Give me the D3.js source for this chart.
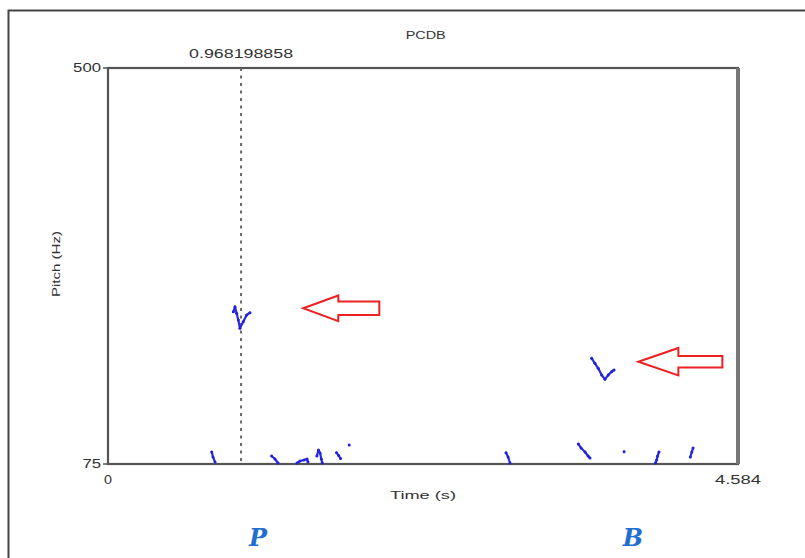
<!DOCTYPE html>
<html>
<head>
<meta charset="utf-8">
<script src="https://cdn.jsdelivr.net/npm/d3@7"></script>
<style>
  html, body { margin: 0; padding: 0; background: #fff; }
  svg { display: block; }
  text { font-family: "Liberation Sans", Arial, sans-serif; fill: #333; }
</style>
</head>
<body>
<svg id="chart" width="805" height="558"></svg>
<script>
// Pitch track of the recording (time in s, F0 in Hz); null breaks a voiced stretch
const pitchTimes = [
  0.755, 0.764, 0.779, null,
  0.912, 0.924, 0.936, 0.948, 0.960, 0.984, 1.009, 1.033, null,
  1.191, 1.215, 1.237, null,
  1.375, 1.397, 1.426, 1.448, 1.455, null,
  1.520, 1.531, 1.543, 1.552, 1.559, null,
  1.663, 1.678, 1.692, null,
  1.755, null,
  2.896, 2.911, 2.925, null,
  3.422, 3.442, 3.471, 3.493, 3.507, null,
  3.519, 3.543, 3.567, 3.592, 3.616, 3.640, 3.665, 3.682, null,
  3.755, null,
  3.984, 3.992, 3.999, 4.009, null,
  4.237, 4.248, 4.257
];
const pitchHz = [
  87.9, 82.5, 77.1, null,
  238.4, 243.8, 236.7, 229.5, 220.6, 227.7, 234.9, 237.4, null,
  83.6, 80.4, 76.1, null,
  76.1, 78.2, 79.3, 80.4, 77.2, null,
  83.6, 90.0, 86.8, 80.4, 76.1, null,
  87.1, 84.0, 81.0, null,
  95.4, null,
  87.1, 82.5, 76.1, null,
  96.5, 92.2, 87.9, 83.6, 81.4, null,
  188.4, 183.1, 177.7, 170.5, 165.9, 170.5, 174.1, 175.9, null,
  88.2, null,
  76.1, 79.3, 83.6, 87.9, null,
  82.5, 87.9, 92.2
];

const title = "PCDB";
const xLabel = "Time (s)";
const yLabel = "Pitch (Hz)";
const timeRange = [0, 4.584];
const hzRange = [75, 500];
const xTickLabels = ["0", "4.584"];
const yTickLabels = ["75", "500"];
const cursorTime = 0.968198858;
const cursorLabel = "0.968198858";

// Arrows pointing at the two marked syllables: tip at (time, Hz)
const arrowTimes = [1.421, 3.859];
const arrowHz = [242.1, 184.8];
// Segment letters under the plot
const segmentLetters = ["P", "B"];
const segmentTimes = [1.091, 3.820];

const svg = d3.select("#chart");
const m = { left: 108, right: 738, top: 68, bottom: 464 };

const x = d3.scaleLinear().domain(timeRange).range([m.left, m.right]);
const y = d3.scaleLinear().domain(hzRange).range([m.bottom, m.top]);

// outer picture frame
svg.append("rect")
  .attr("x", 8.5).attr("y", 10.5)
  .attr("width", 820).attr("height", 560)
  .attr("fill", "none").attr("stroke", "#444").attr("stroke-width", 2);

// plot box
svg.append("rect")
  .attr("x", m.left).attr("y", m.top)
  .attr("width", m.right - m.left).attr("height", m.bottom - m.top)
  .attr("fill", "none").attr("stroke", "#555").attr("stroke-width", 2.2);
svg.append("line")
  .attr("x1", m.right).attr("x2", m.right)
  .attr("y1", m.top).attr("y2", m.bottom)
  .attr("stroke", "#777").attr("stroke-width", 4);

// stretched label helper
function label(txt, px, py, size, width, anchor, extra) {
  const t = svg.append("text")
    .attr("x", px).attr("y", py)
    .attr("font-size", size)
    .attr("text-anchor", anchor || "middle")
    .attr("dominant-baseline", "central")
    .attr("textLength", width)
    .attr("lengthAdjust", "spacingAndGlyphs")
    .text(txt);
  if (extra) extra(t);
  return t;
}

// y ticks
yTickLabels.forEach(v => {
  const yy = y(+v);
  svg.append("line").attr("x1", m.left - 5).attr("x2", m.left)
    .attr("y1", yy).attr("y2", yy).attr("stroke", "#555").attr("stroke-width", 1.5);
  label(v, m.left - 7, yy, 12, v.length * 9.3, "end");
});
// x ticks
xTickLabels.forEach(v => {
  label(v, x(+v), m.bottom + 16, 12, v === "0" ? 8 : 46, "middle");
});

// axis titles
label(title, x(timeRange[1] * 0.5 + 0.02), 35, 10, 40, "middle");
label(xLabel, (m.left + m.right) / 2, 495, 11, 66, "middle");
label(yLabel, 0, 0, 11, 66, "middle", t =>
  t.attr("x", 0).attr("y", 0).attr("transform", "translate(56,264) rotate(-90)"));

// cursor
svg.append("line")
  .attr("x1", x(cursorTime)).attr("x2", x(cursorTime))
  .attr("y1", m.top).attr("y2", m.bottom)
  .attr("stroke", "#666").attr("stroke-width", 2)
  .attr("stroke-dasharray", "3,4.5");
label(cursorLabel, x(cursorTime), 54, 12, 104, "middle");

// pitch contour
const pts = pitchTimes.map((t, i) => [t, pitchHz[i]]);
const line = d3.line()
  .defined(d => d[0] !== null && d[1] !== null)
  .x(d => x(d[0])).y(d => y(d[1]));
svg.append("path")
  .attr("d", line(pts))
  .attr("fill", "none").attr("stroke", "#2a2ae0")
  .attr("stroke-width", 2.2).attr("stroke-linejoin", "round").attr("stroke-linecap", "round");
svg.append("g").selectAll("circle")
  .data(pts.filter(d => d[0] !== null))
  .join("circle")
  .attr("cx", d => x(d[0])).attr("cy", d => y(d[1]))
  .attr("r", 1.5).attr("fill", "#2020d8");

// annotation arrows (outlined, pointing left)
const arrowShapes = [
  { head: 35, len: 76, hh: 12.8, bh: 6.7 },
  { head: 40, len: 84, hh: 13.7, bh: 5.8 }
];
arrowTimes.forEach((t, i) => {
  const tx = x(t), ty = y(arrowHz[i]);
  const s = arrowShapes[i];
  const p = [
    [tx, ty],
    [tx + s.head, ty - s.hh],
    [tx + s.head, ty - s.bh],
    [tx + s.len, ty - s.bh],
    [tx + s.len, ty + s.bh],
    [tx + s.head, ty + s.bh],
    [tx + s.head, ty + s.hh]
  ];
  svg.append("polygon")
    .attr("points", p.map(d => d.join(",")).join(" "))
    .attr("fill", "#fff").attr("stroke", "#ee2020").attr("stroke-width", 2)
    .attr("stroke-linejoin", "miter");
});

// segment letters
segmentLetters.forEach((s, i) => {
  svg.append("text")
    .attr("x", x(segmentTimes[i])).attr("y", 546)
    .attr("text-anchor", "middle")
    .style("font-family", "'DejaVu Serif', 'Liberation Serif', serif")
    .style("font-weight", "bold").style("font-style", "italic")
    .style("font-size", "24px")
    .style("fill", "#1f6fd0")
    .text(s);
});
</script>
</body>
</html>
